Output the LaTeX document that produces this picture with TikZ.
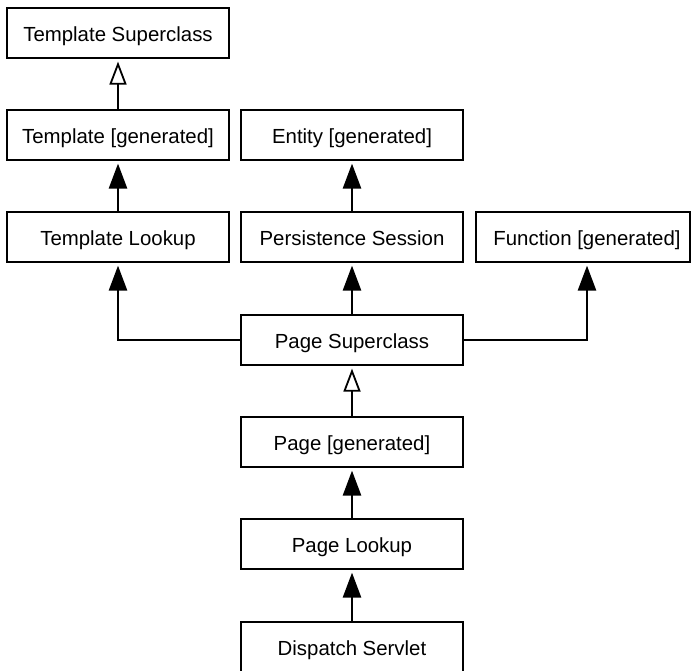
\documentclass[tikz,border=0pt]{standalone}
\usepackage{fontspec}
\setmainfont{Liberation Sans}
\usetikzlibrary{arrows.meta}
\begin{document}
\begin{tikzpicture}[x=1pt,y=1pt,
  box/.style={draw, line width=1.2pt, minimum width=222pt, minimum height=50pt, inner sep=0pt,
    text height=17.5pt, text depth=0pt,
    font=\fontsize{20.4}{24}\selectfont},
  uses/.style={line width=2.6pt, -{Triangle[length=25pt,width=18pt]}, shorten >=3pt},
  inherits/.style={line width=2.6pt, -{Triangle[open,length=23pt,width=17pt,line width=1.8pt]}, shorten >=3pt}]
\useasboundingbox (0,0) rectangle (691,-670);
\node[box] (tsup) at (118,-33) {Template Superclass};
\node[box] (tgen) at (118,-135) {Template [generated]};
\node[box] (tlook) at (118,-237) {Template Lookup};
\node[box] (egen) at (352,-135) {Entity [generated]};
\node[box] (psess) at (352,-237) {Persistence Session};
\node[box, minimum width=214pt] (fgen) at (583,-237) {\hspace*{8pt}Function [generated]};
\node[box] (psup) at (352,-340) {Page Superclass};
\node[box] (pgen) at (352,-442) {Page [generated]};
\node[box] (plook) at (352,-544) {Page Lookup};
\node[box] (disp) at (352,-647) {Dispatch Servlet};
\draw[inherits] (tgen) -- (tsup);
\draw[uses] (tlook) -- (tgen);
\draw[uses] (psess) -- (egen);
\draw[uses] (psup) -- (psess);
\draw[uses] (psup.west) -| (tlook.south);
\draw[uses] (psup.east) -| ([xshift=4pt]fgen.south);
\draw[inherits] (pgen) -- (psup);
\draw[uses] (plook) -- (pgen);
\draw[uses] (disp) -- (plook);
\end{tikzpicture}
\end{document}
